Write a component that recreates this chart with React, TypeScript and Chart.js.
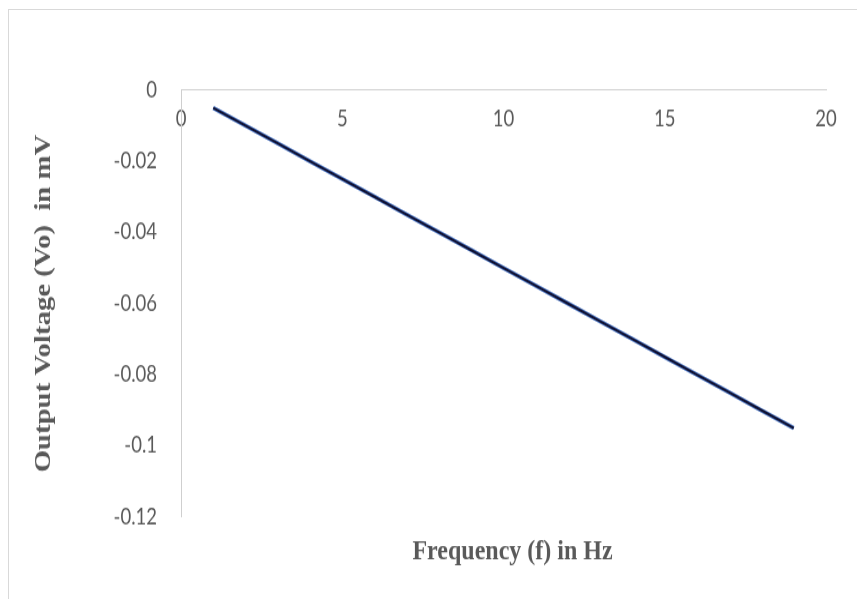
import { useEffect, useRef } from "react";
import { Chart, registerables } from "chart.js";

Chart.register(...registerables);

// Data
const frequency = [1, 2, 3, 4, 5, 6, 7, 8, 9, 10, 11, 12, 13, 14, 15, 16, 17, 18, 19];
const outputVoltage = [
  -0.005, -0.01, -0.015, -0.02, -0.025, -0.03, -0.035, -0.04, -0.045, -0.05,
  -0.055, -0.06, -0.065, -0.07, -0.075, -0.08, -0.085, -0.09, -0.095,
];
const xTickValues = [0, 5, 10, 15, 20];
const yTickValues = [0, -0.02, -0.04, -0.06, -0.08, -0.1, -0.12];
const xTitle = "   Frequency (f) in Hz";
const yTitle = "Output Voltage (Vo)  in mV";

const TEXT_COLOR = "#595959";
const AXIS_COLOR = "#CFCFCF";
const tickFont = { family: "Lato", size: 18.5 };
const titleFont = { family: "Liberation Serif", size: 24, weight: "bold" as const };

// The reference picture is stretched vertically (about 1.2x) relative to its width,
// so the canvas is drawn at a reduced height and displayed stretched.
const CSS_W = 856;
const CSS_H = 590;
const RENDER_H = 492;

const fmt = (v: number) => String(Number(Number(v).toFixed(2)));

export default function App() {
  const canvasRef = useRef<HTMLCanvasElement | null>(null);

  useEffect(() => {
    const canvas = canvasRef.current;
    if (!canvas) return;
    const points = frequency.map((f, i) => ({ x: f, y: outputVoltage[i] }));
    const chart = new Chart(canvas, {
      type: "line",
      data: {
        datasets: [
          {
            label: "Vo",
            data: points,
            borderColor: "#101030",
            borderWidth: 2,
            pointRadius: 0,
            order: 0,
          },
          {
            label: "Vo (outline)",
            data: points,
            borderColor: "#4472C4",
            borderWidth: 3.6,
            pointRadius: 0,
            order: 1,
          },
        ],
      },
      options: {
        animation: false,
        responsive: false,
        devicePixelRatio: 1,
        layout: {
          autoPadding: false,
          padding: { left: 0, top: 66.7, right: 39, bottom: 17.6 },
        },
        plugins: {
          legend: { display: false },
          tooltip: { enabled: false },
          title: { display: false },
        },
        scales: {
          x: {
            type: "linear",
            position: { y: 0 },
            min: 0,
            max: 20,
            grid: { display: false, drawTicks: false },
            border: { display: true, color: AXIS_COLOR, width: 1 },
            afterBuildTicks: (s: any) => {
              s.ticks = xTickValues.map((v) => ({ value: v }));
            },
            ticks: {
              padding: 13,
              color: TEXT_COLOR,
              font: tickFont,
              maxRotation: 0,
              autoSkip: false,
              callback: (v: any) => fmt(v),
            },
          } as any,
          x2: {
            type: "linear",
            axis: "x",
            position: "bottom",
            min: 0,
            max: 20,
            grid: { display: false, drawTicks: false },
            border: { display: false },
            ticks: { display: false },
            title: {
              display: true,
              text: xTitle,
              color: TEXT_COLOR,
              font: titleFont,
              padding: { top: 14.8, bottom: 8 },
            },
          } as any,
          y: {
            type: "linear",
            position: "left",
            min: -0.12,
            max: 0,
            afterFit: (s: any) => {
              s.width = 172;
            },
            afterBuildTicks: (s: any) => {
              s.ticks = yTickValues.map((v) => ({ value: v }));
            },
            grid: { display: false, drawTicks: false },
            border: { display: true, color: AXIS_COLOR, width: 1 },
            ticks: {
              padding: 24,
              color: TEXT_COLOR,
              font: tickFont,
              autoSkip: false,
              callback: (v: any) => fmt(v),
            },
            title: {
              display: true,
              text: yTitle,
              color: TEXT_COLOR,
              font: titleFont,
              padding: { top: 20.6, bottom: 0 },
            },
          } as any,
        },
      } as any,
    });
    return () => chart.destroy();
  }, []);

  return (
    <div
      style={{
        position: "relative",
        top: 1,
        width: 857,
        height: 591,
        boxSizing: "border-box",
        borderTop: "1px solid #D9D9D9",
        borderLeft: "1px solid #D9D9D9",
        background: "#FFFFFF",
      }}
    >
      <canvas
        ref={canvasRef}
        width={CSS_W}
        height={RENDER_H}
        style={{ display: "block", width: CSS_W + "px", height: CSS_H + "px" }}
      />
    </div>
  );
}
